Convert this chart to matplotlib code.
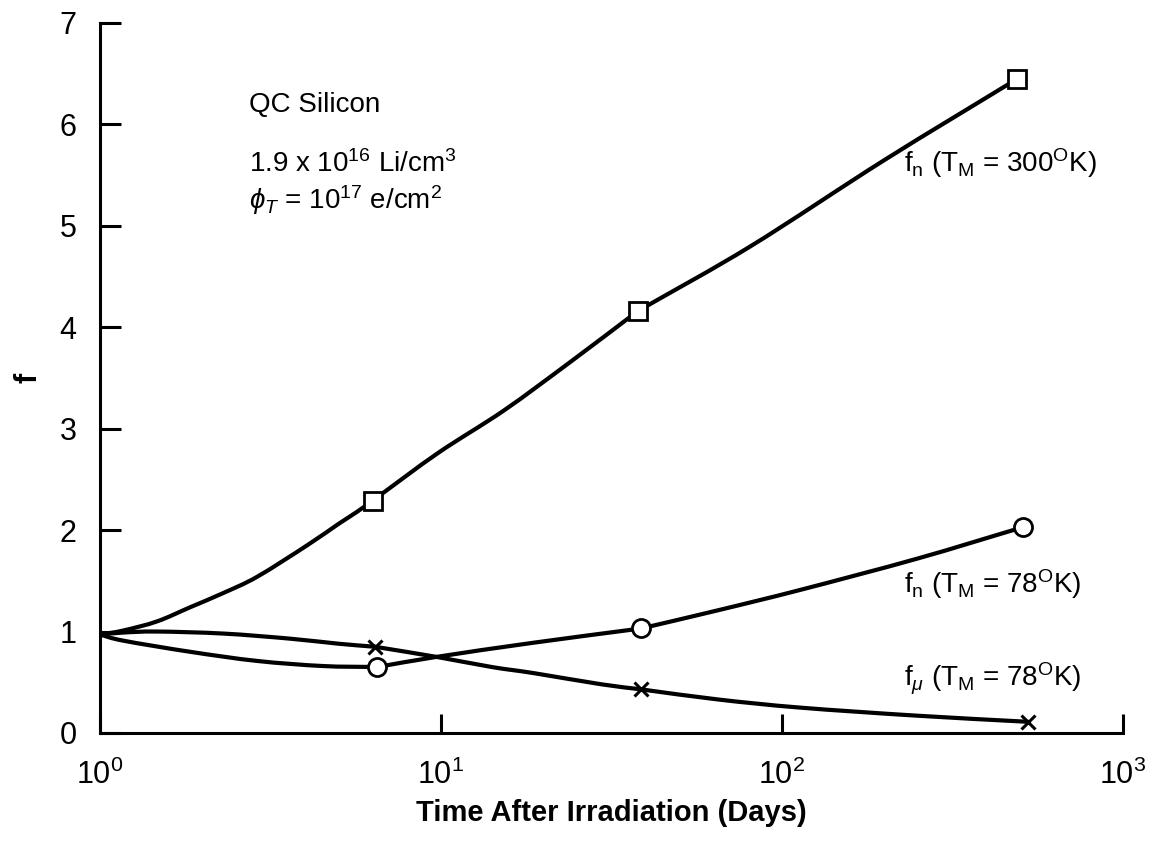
import matplotlib
matplotlib.use("Agg")
import matplotlib.pyplot as plt
import numpy as np
from matplotlib.path import Path
from matplotlib.patches import PathPatch

plt.rcParams['font.family'] = ['Liberation Sans', 'DejaVu Sans']
plt.rcParams['mathtext.fontset'] = 'custom'
plt.rcParams['mathtext.rm'] = 'Liberation Sans'
plt.rcParams['mathtext.it'] = 'Liberation Sans:italic'
plt.rcParams['mathtext.default'] = 'regular'

# measured points (days, f)
days_fn300 = [6.3, 37.8, 490]
f_fn300 = [2.29, 4.16, 6.45]
days_fn78 = [6.5, 38.6, 510]
f_fn78 = [0.65, 1.03, 2.03]
days_fmu = [6.4, 38.6, 527]
f_fmu = [0.85, 0.43, 0.11]

# faired curves, one piece between each pair of measured points
fn300_pieces = [
    ([1.0, 1.17, 1.47, 1.84, 2.3, 2.89, 4.05, 5.0, 5.67, 6.3],
     [0.97, 1.01, 1.10, 1.24, 1.38, 1.54, 1.85, 2.06, 2.18, 2.29]),
    ([6.3, 9.8, 15.3, 24, 37.8],
     [2.29, 2.76, 3.18, 3.66, 4.16]),
    ([37.8, 81, 200, 490],
     [4.16, 4.80, 5.65, 6.45]),
]
fn78_pieces = [
    ([1.0, 1.17, 1.84, 2.89, 4.5, 6.5],
     [0.97, 0.91, 0.80, 0.71, 0.66, 0.65]),
    ([6.5, 9.7, 18.7, 38.6],
     [0.65, 0.75, 0.89, 1.03]),
    ([38.6, 65, 113, 250, 510],
     [1.03, 1.21, 1.41, 1.72, 2.03]),
]
fmu_pieces = [
    ([1.0, 1.17, 1.47, 2.3, 3.6, 5.0, 6.4],
     [0.97, 0.99, 1.0, 0.98, 0.93, 0.88, 0.85]),
    ([6.4, 9.7, 14.1, 18.7, 29.5, 38.6],
     [0.85, 0.75, 0.65, 0.59, 0.48, 0.43]),
    ([38.6, 65, 113, 250, 527],
     [0.43, 0.33, 0.25, 0.17, 0.11]),
]

xticks = [1, 10, 100, 1000]
xtick_labels = ['$10^0$', '$10^1$', '$10^2$', '$10^3$']
yticks = [0, 1, 2, 3, 4, 5, 6, 7]


def smooth_path(xs, ys):
    # Catmull-Rom through the points, worked out in log10(x)
    p = np.column_stack([np.log10(xs), ys])
    n = len(p)
    m = np.zeros_like(p)
    for i in range(n):
        if i == 0:
            m[i] = p[1] - p[0]
        elif i == n - 1:
            m[i] = p[-1] - p[-2]
        else:
            m[i] = (p[i + 1] - p[i - 1]) / 2
    verts = [p[0]]
    codes = [Path.MOVETO]
    for i in range(n - 1):
        verts += [p[i] + m[i] / 3, p[i + 1] - m[i + 1] / 3, p[i + 1]]
        codes += [Path.CURVE4] * 3
    verts = np.array(verts)
    verts[:, 0] = 10 ** verts[:, 0]
    return Path(verts, codes)


fig = plt.figure(figsize=(11.52, 8.42), dpi=100)
ax = fig.add_axes([0.0868, 0.1295, 0.888, 0.8432])

for pieces in [fn300_pieces, fn78_pieces, fmu_pieces]:
    for xs, ys in pieces:
        ax.add_patch(PathPatch(smooth_path(xs, ys), fill=False, lw=3.0,
                               edgecolor='black', capstyle='round', zorder=2))

ax.plot(days_fn300, f_fn300, ls='none', marker='s', ms=13, mfc='white',
        mec='black', mew=2, zorder=3)
ax.plot(days_fn78, f_fn78, ls='none', marker='o', ms=13, mfc='white',
        mec='black', mew=2, zorder=3)
ax.plot(days_fmu, f_fmu, ls='none', marker='x', ms=10, mec='black',
        mew=2.2, zorder=3)

ax.set_xscale('log')
ax.set_xlim(1, 1000)
ax.set_ylim(0, 7)
ax.set_xticks(xticks)
ax.set_xticklabels(xtick_labels)
ax.minorticks_off()
ax.set_yticks(yticks)

for side in ['top', 'right']:
    ax.spines[side].set_visible(False)
for side in ['left', 'bottom']:
    ax.spines[side].set_linewidth(2.2)

ax.tick_params(axis='both', direction='in', width=2.2, labelsize=22)
ax.tick_params(axis='y', length=15, pad=17)
ax.tick_params(axis='x', length=14, pad=19)

ax.set_xlabel('Time After Irradiation (Days)', fontsize=21, fontweight='bold',
              family=['Liberation Sans Narrow', 'Liberation Sans'], labelpad=6)
ax.set_ylabel('f', fontsize=22, fontweight='bold', va='center')
ax.yaxis.set_label_coords(-0.07, 0.5)

ax.text(2.73, 6.12, 'QC Silicon', fontsize=20, ha='left', va='baseline')
ax.text(2.73, 5.53, '1.9 x 10$^{16}$ Li/cm$^{3}$', fontsize=20,
        ha='left', va='baseline')
ax.text(2.73, 5.17, r'$\it{\phi}_{T}$ = 10$^{17}$ e/cm$^{2}$', fontsize=20,
        ha='left', va='baseline')

ax.text(0.786, 0.790, 'f$_n$ (T$_M$ = 300$^O$K)', transform=ax.transAxes,
        fontsize=20, ha='left', va='baseline')
ax.text(0.786, 0.197, 'f$_n$ (T$_M$ = 78$^O$K)', transform=ax.transAxes,
        fontsize=20, ha='left', va='baseline')
ax.text(0.786, 0.066, r'f$_{\it{\mu}}$ (T$_M$ = 78$^O$K)', transform=ax.transAxes,
        fontsize=20, ha='left', va='baseline')

fig.savefig('out.png', dpi=100)
